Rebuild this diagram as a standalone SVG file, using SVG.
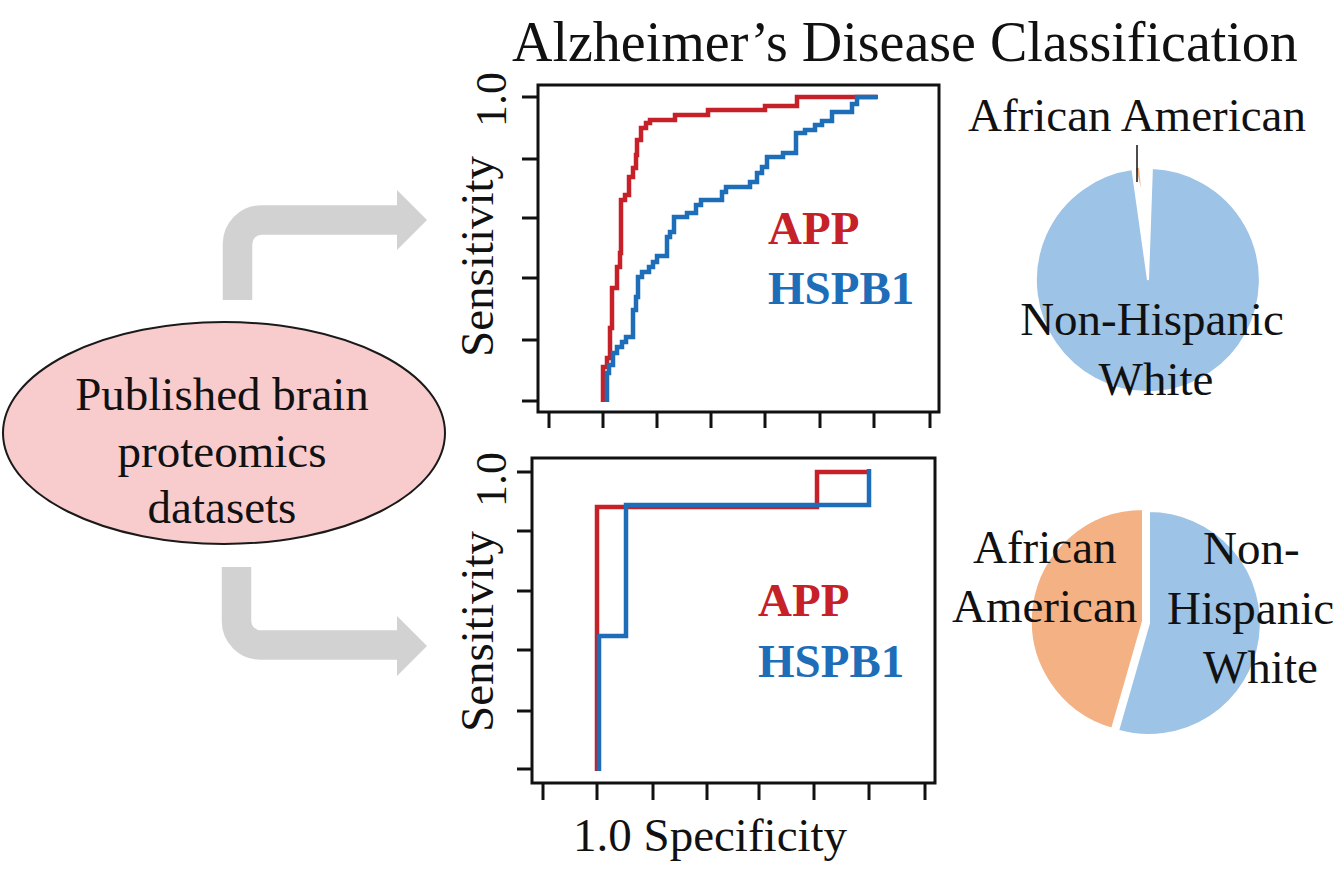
<svg xmlns="http://www.w3.org/2000/svg" width="1339" height="869" viewBox="0 0 1339 869">
<style>
text{font-family:"Liberation Serif","Times New Roman",serif;fill:#111}
.t47{font-size:47px}
.lab{font-size:47px;font-weight:bold}
.red{fill:#C62129}
.blue{fill:#1E6DB9}
.axis{fill:none;stroke:#111;stroke-width:3}
.tick{stroke:#111;stroke-width:3}
.rc{fill:none;stroke:#C62129;stroke-width:4.5}
.bc{fill:none;stroke:#1E6DB9;stroke-width:4.5}
.arr{fill:none;stroke:#D2D2D2;stroke-width:29.5}
.head{fill:#D2D2D2}
.pb{fill:#9DC3E6;stroke:#fff;stroke-width:2}
.po{fill:#F4B183;stroke:#fff;stroke-width:2}
</style>
<rect width="1339" height="869" fill="#fff"/>

<g id="title">
<text x="512" y="61" style="font-size:56px">Alzheimer’s Disease Classification</text>
</g>

<g id="source-node">
<ellipse cx="224" cy="433" rx="221" ry="111" fill="#F8CBCC" stroke="#1a1a1a" stroke-width="2"/>
<text class="t47" x="222" y="410" text-anchor="middle">Published brain</text>
<text class="t47" x="222" y="467" text-anchor="middle">proteomics</text>
<text class="t47" x="222" y="523" text-anchor="middle">datasets</text>
</g>

<g id="connectors">
<path class="arr" d="M237.5,300 V244 A24,24 0 0 1 261.5,220 H400"/>
<polygon class="head" points="397,190 427,220 397,250"/>
<path class="arr" d="M236.5,567 V621 A24,24 0 0 0 260.5,645 H400"/>
<polygon class="head" points="397,616 427,646 397,676"/>
</g>

<g id="roc-top">
<rect class="axis" x="538" y="85" width="401" height="327"/>
<g class="tick">
<line x1="522" y1="97" x2="538" y2="97"/><line x1="522" y1="159" x2="538" y2="159"/><line x1="522" y1="218" x2="538" y2="218"/><line x1="522" y1="278" x2="538" y2="278"/><line x1="522" y1="340" x2="538" y2="340"/><line x1="522" y1="401" x2="538" y2="401"/>
<line x1="549" y1="412" x2="549" y2="428"/><line x1="603" y1="412" x2="603" y2="428"/><line x1="657" y1="412" x2="657" y2="428"/><line x1="711" y1="412" x2="711" y2="428"/><line x1="765" y1="412" x2="765" y2="428"/><line x1="820" y1="412" x2="820" y2="428"/><line x1="874" y1="412" x2="874" y2="428"/><line x1="930" y1="412" x2="930" y2="428"/>
</g>
<path class="rc" d="M603,402 V367 H607 V358 H610 V328 H612 V288 H617 V267 H620 V253 H621 V200 H625 V195 H629 V177 H633 V168 H636 V155 H637 V140 H641 V128 H646 V123 H650 V120 H675 V115 H708 V110 H765 V106 H797 V97 H877"/>
<path class="bc" d="M607,402 V373 H609 V365 H613 V353 H617 V347 H622 V342 H626 V337 H633 V310 H636 V297 H638 V277 H642 V272 H649 V267 H653 V262 H657 V256 H667 V237 H670 V232 H674 V217 H687 V213 H696 V205 H701 V200 H722 V192 H726 V187 H750 V182 H757 V173 H762 V167 H767 V157 H783 V153 H796 V133 H805 V130 H815 V125 H822 V121 H832 V112 H852 V104 H857 V97 H878"/>
<text class="t47" transform="translate(493,357) rotate(-90)">Sensitivity</text>
<text transform="translate(506,127) rotate(-90)" style="font-size:44px">1.0</text>
<text class="lab red" x="768" y="244">APP</text>
<text class="lab blue" x="768" y="304">HSPB1</text>
</g>

<g id="roc-bottom">
<rect class="axis" x="532" y="458" width="403" height="325"/>
<g class="tick">
<line x1="517" y1="472" x2="532" y2="472"/><line x1="517" y1="531" x2="532" y2="531"/><line x1="517" y1="591" x2="532" y2="591"/><line x1="517" y1="650" x2="532" y2="650"/><line x1="517" y1="711" x2="532" y2="711"/><line x1="517" y1="769" x2="532" y2="769"/>
<line x1="543" y1="783" x2="543" y2="800"/><line x1="597" y1="783" x2="597" y2="800"/><line x1="653" y1="783" x2="653" y2="800"/><line x1="707" y1="783" x2="707" y2="800"/><line x1="759" y1="783" x2="759" y2="800"/><line x1="814" y1="783" x2="814" y2="800"/><line x1="869" y1="783" x2="869" y2="800"/><line x1="925" y1="783" x2="925" y2="800"/>
</g>
<path class="rc" d="M597,771 V507 H817 V472 H869"/>
<path class="bc" d="M599,771 V636 H626 V505 H869 V469"/>
<text class="t47" transform="translate(493,732) rotate(-90)">Sensitivity</text>
<text transform="translate(506,507) rotate(-90)" style="font-size:44px">1.0</text>
<text class="lab red" x="758" y="616">APP</text>
<text class="lab blue" x="758" y="677">HSPB1</text>
<text class="t47" x="573" y="851">1.0 Specificity</text>
</g>

<g id="pie-top">
<path class="pb" d="M1148,280 L1151.9,168.1 A112,112 0 1 1 1132.4,169.1 Z"/>
<polygon points="1136,168 1139,168 1141,188" fill="#F4B183"/>
<line x1="1137" y1="145" x2="1137" y2="182" stroke="#111" stroke-width="1.5"/>
<text class="t47" x="968" y="131">African American</text>
<text class="t47" x="1152" y="335" text-anchor="middle">Non-Hispanic</text>
<text class="t47" x="1156" y="395" text-anchor="middle">White</text>
</g>

<g id="pie-bottom">
<path class="po" transform="translate(-3,-1)" d="M1146,622 L1115.1,729.7 A112,112 0 0 1 1146,510 Z"/>
<path class="pb" transform="translate(3,1)" d="M1146,622 L1146,510 A112,112 0 1 1 1115.1,729.7 Z"/>
<text class="t47" x="973" y="563">African</text>
<text class="t47" x="952" y="622">American</text>
<text class="t47" x="1203" y="564">Non-</text>
<text class="t47" x="1167" y="624">Hispanic</text>
<text class="t47" x="1203" y="683">White</text>
</g>
</svg>
